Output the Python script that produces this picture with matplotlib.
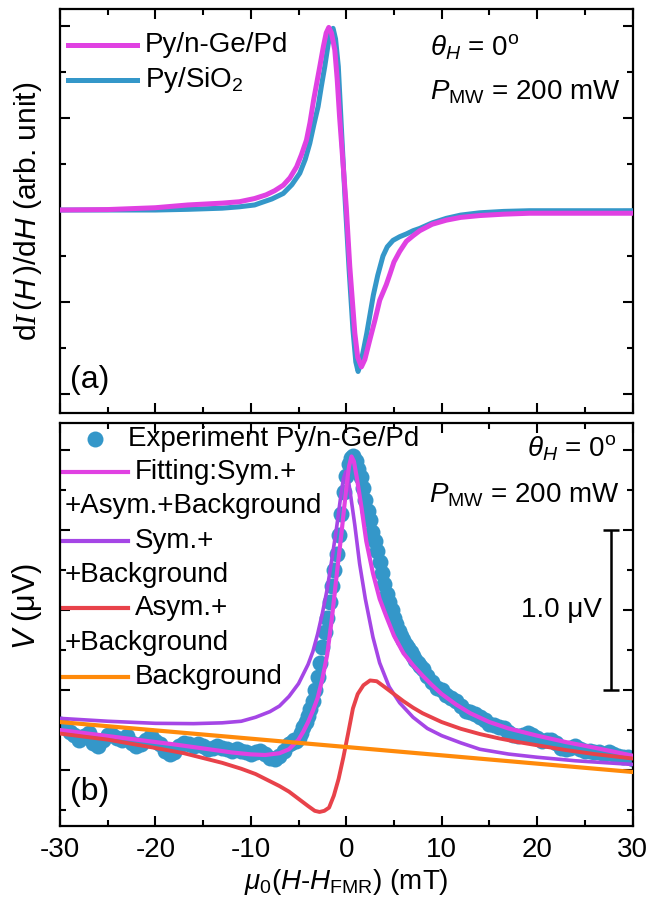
import matplotlib
matplotlib.use('Agg')
import matplotlib.pyplot as plt
from matplotlib.ticker import MultipleLocator
from matplotlib.lines import Line2D

plt.rcParams.update({
    'font.family': ['Liberation Sans', 'DejaVu Sans'],
    'mathtext.fontset': 'custom',
    'mathtext.rm': 'Liberation Sans',
    'mathtext.it': 'Liberation Sans:italic',
    'mathtext.bf': 'Liberation Sans:bold',
    'mathtext.sf': 'Liberation Serif:italic',
    'axes.unicode_minus': False,
    'font.size': 20,
})

# ---------------- panel (a): FMR derivative spectra (arb. unit) ----------------
field_pd = [-30, -25, -20, -16.6, -13, -11.2, -9.6, -8.4, -7.5, -6.6, -5.9, -5.2, -4.7, -4.17, -3.8,
            -3.42, -3.1, -2.78, -2.4, -2.1, -1.83, -1.55, -1.2, -0.95, -0.7, -0.35, 0.0, 0.37, 0.9, 1.2,
            1.59, 1.95, 2.46, 3.0, 3.51, 4.2, 4.6, 5.0, 5.6, 6.3, 7.0, 7.7, 9.0, 10.5, 12.0, 14.0, 16.5,
            19.2, 25.0, 30.0]
didh_pd = [0.0, 0.01, 0.05, 0.11, 0.15, 0.18, 0.25, 0.33, 0.42, 0.54, 0.70, 0.94, 1.20, 1.52, 1.90,
           2.39, 2.75, 3.11, 3.55, 3.85, 3.97, 3.85, 3.48, 2.85, 2.03, 1.05, 0.07, -1.23, -2.68, -3.20,
           -3.41, -3.25, -2.83, -2.40, -1.96, -1.62, -1.38, -1.13, -0.90, -0.68, -0.56, -0.45, -0.31,
           -0.22, -0.16, -0.12, -0.09, -0.07, -0.07, -0.07]

field_si = [-30, -20, -16.6, -13, -11.2, -9.6, -9.06, -7.8, -6.6, -5.7, -4.87, -4.3, -3.82, -3.4, -2.95,
            -2.6, -2.25, -1.9, -1.6, -1.38, -1.12, -0.83, -0.48, -0.1, 0.3, 0.7, 1.0, 1.24, 1.5, 1.8,
            2.15, 2.84, 3.3, 3.85, 4.3, 4.9, 5.6, 6.3, 7.0, 7.7, 9.0, 10.5, 12.0, 14.0, 16.5, 19.2, 30.0]
didh_si = [0.0, 0.0, 0.015, 0.04, 0.07, 0.11, 0.15, 0.24, 0.36, 0.55, 0.80, 1.10, 1.45, 1.85, 2.25,
           2.70, 3.12, 3.60, 3.88, 3.95, 3.72, 3.12, 1.67, 0.15, -1.30, -2.60, -3.30, -3.51, -3.35, -3.05,
           -2.68, -1.85, -1.42, -1.00, -0.80, -0.66, -0.58, -0.52, -0.45, -0.40, -0.28, -0.18, -0.11,
           -0.06, -0.03, -0.015, -0.015]

# ---------------- panel (b): voltage spectra (uV, offset) ----------------
field_exp = [-30.0, -29.5, -29.0, -28.5, -28.0, -27.5, -27.0, -26.5, -26.0, -25.5, -25.0, -24.5, -24.0,
             -23.5, -23.0, -22.5, -22.0, -21.5, -21.0, -20.5, -20.0, -19.5, -19.0, -18.5, -18.0, -17.5,
             -17.0, -16.5, -16.0, -15.5, -15.0, -14.5, -14.0, -13.5, -13.0, -12.5, -12.0, -11.5, -11.0,
             -10.5, -10.0, -9.5, -9.0, -8.5, -8.0, -7.5, -7.0, -6.5, -6.0,
             -5.75, -5.5, -5.25, -5.0, -4.75, -4.5, -4.25, -4.0, -3.75, -3.5, -3.25, -3.0, -2.75, -2.5,
             -2.25, -2.0, -1.75, -1.5, -1.25, -1.0, -0.75, -0.5, -0.25,
             0.0, 0.25, 0.5, 0.75, 1.0, 1.25, 1.5, 1.75, 2.0, 2.25, 2.5, 2.75, 3.0, 3.25, 3.5, 3.75, 4.0,
             4.25, 4.5, 4.75, 5.0, 5.25, 5.5, 5.75, 6.0, 6.25, 6.5, 6.75, 7.0, 7.25, 7.5, 7.75, 8.0,
             8.5, 9.0, 9.5, 10.0, 10.5, 11.0, 11.5, 12.0, 12.5, 13.0, 13.5, 14.0, 14.5, 15.0, 15.5, 16.0,
             16.5, 17.0, 17.5, 18.0, 18.5, 19.0, 19.5, 20.0, 20.5, 21.0, 21.5, 22.0, 22.5, 23.0, 23.5,
             24.0, 24.5, 25.0, 25.5, 26.0, 26.5, 27.0, 27.5, 28.0, 28.5, 29.0, 29.5, 30.0]
v_exp = [0.29, 0.27, 0.24, 0.22, 0.19, 0.21, 0.23, 0.17, 0.15, 0.19, 0.22, 0.22, 0.20,
         0.19, 0.21, 0.17, 0.15, 0.16, 0.19, 0.21, 0.18, 0.16, 0.12, 0.10, 0.11, 0.15,
         0.17, 0.16, 0.15, 0.16, 0.15, 0.13, 0.14, 0.15, 0.14, 0.13, 0.12, 0.13, 0.12,
         0.11, 0.10, 0.11, 0.12, 0.10, 0.075, 0.07, 0.09, 0.12, 0.16,
         0.17, 0.19, 0.18, 0.20, 0.23, 0.27, 0.30, 0.34, 0.38, 0.43, 0.50, 0.58, 0.67, 0.77,
         0.86, 0.95, 1.05, 1.15, 1.25, 1.35, 1.47, 1.60, 1.74,
         1.84, 1.91, 1.95, 1.96, 1.93, 1.88, 1.83, 1.76, 1.69, 1.62, 1.56, 1.49, 1.43, 1.37, 1.30, 1.23, 1.16,
         1.10, 1.05, 1.00, 0.95, 0.91, 0.87, 0.84, 0.81, 0.78, 0.76, 0.74, 0.71, 0.69, 0.67, 0.65, 0.63,
         0.59, 0.55, 0.51, 0.50, 0.47, 0.45, 0.43, 0.40, 0.37, 0.36, 0.35, 0.33, 0.31, 0.29, 0.28, 0.27,
         0.26, 0.24, 0.22, 0.21, 0.22, 0.23, 0.22, 0.20, 0.18, 0.19, 0.19, 0.17, 0.14, 0.13, 0.14,
         0.15, 0.13, 0.12, 0.12, 0.11, 0.11, 0.10, 0.11, 0.10, 0.09, 0.08, 0.08, 0.07]

field_fit = [-30, -26, -22, -18, -15, -12, -10, -8.5, -7, -6, -5, -4.5, -4, -3.5, -3, -2.5, -2, -1.5, -1,
             -0.5, -0.2, 0.05, 0.3, 0.55, 0.8, 1.1, 1.6, 2.1, 2.8, 3.5, 4.2, 5, 6, 7, 8, 9, 10, 11.5, 13,
             15, 17, 20, 23, 26, 30]
v_fit = [0.25, 0.22, 0.19, 0.16, 0.135, 0.11, 0.098, 0.094, 0.105, 0.13, 0.19, 0.24, 0.30, 0.37, 0.45,
         0.57, 0.72, 0.95, 1.22, 1.48, 1.65, 1.79, 1.90, 1.96, 1.93, 1.83, 1.64, 1.43, 1.23, 1.07, 0.96,
         0.84, 0.73, 0.655, 0.59, 0.53, 0.475, 0.41, 0.355, 0.30, 0.26, 0.215, 0.175, 0.14, 0.09]

field_sym = [-30, -25, -20, -16, -13, -11, -9.5, -8, -7, -6, -5, -4, -3.5, -3, -2.5, -2, -1.5, -1, -0.6,
             -0.3, -0.05, 0.2, 0.5, 0.9, 1.4, 2.0, 2.8, 3.5, 4.5, 5.6, 7, 8.5, 10, 12, 14, 17, 20, 24, 30]
v_sym = [0.323, 0.305, 0.292, 0.29, 0.295, 0.305, 0.33, 0.365, 0.40, 0.46, 0.54, 0.66, 0.74, 0.85, 0.98,
         1.13, 1.32, 1.52, 1.70, 1.82, 1.865, 1.82, 1.70, 1.53, 1.29, 1.07, 0.83, 0.67, 0.52, 0.42, 0.33,
         0.26, 0.215, 0.17, 0.13, 0.10, 0.08, 0.058, 0.035]

field_asym = [-30, -25, -20, -17, -15, -13, -11, -9.5, -8, -7, -6, -5, -4, -3.3, -2.8, -2.3, -1.8, -1.3,
              -0.8, -0.3, 0.2, 0.7, 1.2, 1.8, 2.5, 3.2, 4, 5, 6, 7, 8, 10, 12, 14, 16, 18, 20, 23, 26, 30]
v_asym = [0.228, 0.19, 0.138, 0.105, 0.075, 0.045, 0.008, -0.025, -0.07, -0.10, -0.135, -0.18, -0.225,
          -0.255, -0.262, -0.255, -0.235, -0.16, -0.055, 0.08, 0.23, 0.385, 0.475, 0.53, 0.56, 0.555,
          0.52, 0.475, 0.43, 0.39, 0.355, 0.30, 0.258, 0.225, 0.198, 0.175, 0.155, 0.125, 0.10, 0.072]

field_bg = [-30, 30]
v_bg = [0.30, -0.012]

# scale bar (uV)
scale_x = 27.75
scale_center = 1.0
scale_half = 0.5

C_PD = '#E041E2'
C_SI = '#3497C9'
C_SYM = '#A546E6'
C_ASYM = '#E8424A'
C_BG = '#FF8A0A'
C_EXP = '#3497C9'

fig = plt.figure(figsize=(6.52, 9.01), dpi=100)
ax1 = fig.add_axes([0.0920, 0.5416, 0.8781, 0.4484])
ax2 = fig.add_axes([0.0920, 0.0832, 0.8781, 0.4473])

ax1.plot(field_si, didh_si, color=C_SI, lw=3.6, solid_joinstyle='round', zorder=3)
ax1.plot(field_pd, didh_pd, color=C_PD, lw=3.6, solid_joinstyle='round', zorder=4)

ax2.plot(field_exp, v_exp, 'o', color=C_EXP, ms=11.5, mec='none', zorder=2)
ax2.plot(field_fit, v_fit, color=C_PD, lw=3.0, zorder=4)
ax2.plot(field_sym, v_sym, color=C_SYM, lw=2.6, zorder=3)
ax2.plot(field_asym, v_asym, color=C_ASYM, lw=2.8, zorder=5)
ax2.plot(field_bg, v_bg, color=C_BG, lw=3.0, zorder=6)
ax2.errorbar([scale_x], [scale_center], yerr=[scale_half], fmt='none', ecolor='k',
             elinewidth=1.8, capsize=5.5, capthick=1.8, zorder=6)
ax2.text(26.8, scale_center, '1.0 μV', ha='right', va='center', fontsize=20)

for ax in (ax1, ax2):
    ax.set_xlim(-30, 30)
    ax.xaxis.set_major_locator(MultipleLocator(10))
    ax.xaxis.set_minor_locator(MultipleLocator(5))
    ax.tick_params(which='both', direction='in', top=True, right=True, width=1.5, labelleft=False)
    ax.tick_params(which='major', length=7)
    ax.tick_params(which='minor', length=4)
    for s in ax.spines.values():
        s.set_linewidth(1.6)

ax1.set_ylim(-4.413, 4.37)
ax1.yaxis.set_major_locator(MultipleLocator(2))
ax1.yaxis.set_minor_locator(MultipleLocator(1))
ax1.tick_params(labelbottom=False)

ax2.set_ylim(-0.35, 2.169)
ax2.yaxis.set_major_locator(MultipleLocator(0.5))
ax2.yaxis.set_minor_locator(MultipleLocator(0.25))
ax2.tick_params(axis='x', labelsize=20, pad=8)

ax1.set_ylabel(r'd$\mathsf{I}\,$($\mathit{H}\,$)/d$\mathit{H}$ (arb. unit)', fontsize=21.5)
ax1.yaxis.set_label_coords(-0.028, 0.5)
ax2.set_ylabel(r'$\mathit{V}$ (μV)', fontsize=22)
ax2.yaxis.set_label_coords(-0.028, 0.546)
ax2.set_xlabel(r'$\mu_0$($\mathit{H}$-$\mathit{H}_{\mathrm{FMR}}$) (mT)', fontsize=20, labelpad=3)

# legend (a)
T1 = ax1.transAxes
ax1.add_line(Line2D([0.014, 0.1345], [0.911, 0.911], transform=T1, color=C_PD, lw=3.6))
ax1.text(0.1485, 0.911, 'Py/n-Ge/Pd', transform=T1, va='center', fontsize=20)
ax1.add_line(Line2D([0.014, 0.1345], [0.8243, 0.8243], transform=T1, color=C_SI, lw=3.6))
ax1.text(0.1485, 0.8243, 'Py/SiO$_2$', transform=T1, va='center', fontsize=20)
ax1.text(0.646, 0.886, r'$\theta_{H}$ = 0$^{\mathrm{o}}$', transform=T1, va='baseline', fontsize=20)
ax1.text(0.646, 0.775, r'$P_{\mathrm{MW}}$ = 200 mW', transform=T1, va='baseline', fontsize=20)
ax1.text(0.0175, 0.082, '(a)', transform=T1, va='center', fontsize=23)

# legend (b)
T2 = ax2.transAxes
ax2.add_line(Line2D([0.0611], [0.9603], transform=T2, marker='o', ms=11.5, color=C_EXP, mec='none', ls='none'))
ax2.text(0.1188, 0.9603, 'Experiment Py/n-Ge/Pd', transform=T2, va='center', fontsize=20)
rows = [(C_PD, 'Fitting:Sym.+', '+Asym.+Background', 0.8784, 0.794),
        (C_SYM, 'Sym.+', '+Background', 0.7072, 0.6228),
        (C_ASYM, 'Asym.+', '+Background', 0.541, 0.4541),
        (C_BG, 'Background', None, 0.3697, None)]
for col, l1, l2, y1, y2 in rows:
    ax2.add_line(Line2D([0.0052, 0.1188], [y1, y1], transform=T2, color=col, lw=3.0))
    ax2.text(0.131, y1, l1, transform=T2, va='center', fontsize=20)
    if l2:
        ax2.text(0.0087, y2, l2, transform=T2, va='center', fontsize=20)
ax2.text(0.972, 0.916, r'$\theta_{H}$ = 0$^{\mathrm{o}}$', transform=T2, ha='right', va='baseline', fontsize=20)
ax2.text(0.978, 0.803, r'$P_{\mathrm{MW}}$ = 200 mW', transform=T2, ha='right', va='baseline', fontsize=20)
ax2.text(0.0175, 0.084, '(b)', transform=T2, va='center', fontsize=23)

fig.savefig('out.png', dpi=100)
